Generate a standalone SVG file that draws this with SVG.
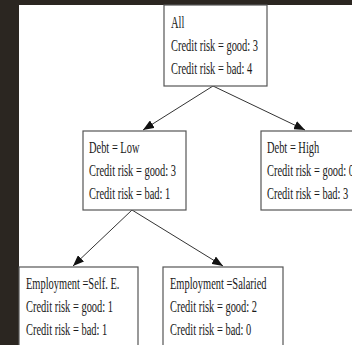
<svg xmlns="http://www.w3.org/2000/svg" width="352" height="345" viewBox="0 0 352 345">
  <defs>
    <style>
      .box { fill: #ffffff; stroke: #555555; stroke-width: 1.2; }
      .lbl { font-family: "Liberation Serif", "Times New Roman", serif; font-size: 17px; fill: #1a1a1a; }
      .edge { stroke: #333333; stroke-width: 1; fill: none; marker-end: url(#arrow); }
    </style>
    <marker id="arrow" viewBox="0 0 10 8" refX="10" refY="4" markerUnits="userSpaceOnUse" markerWidth="11" markerHeight="9" orient="auto">
      <path d="M0,0 L10,4 L0,8 Z" fill="#111111"/>
    </marker>
  </defs>

  <!-- page frame -->
  <rect x="0" y="0" width="352" height="345" fill="#2b2621"/>
  <rect x="19" y="5" width="333" height="340" fill="#ffffff"/>

  <!-- tree edges -->
  <g id="connectors">
    <line class="edge" x1="213" y1="86" x2="143" y2="130"/>
    <line class="edge" x1="213" y1="86" x2="305" y2="130"/>
    <line class="edge" x1="132" y1="210" x2="73" y2="266"/>
    <line class="edge" x1="132" y1="210" x2="223" y2="266"/>
  </g>

  <!-- root split -->
  <g id="node-all">
    <rect class="box" x="164" y="5" width="103" height="81"/>
    <g class="lbl" transform="translate(171,0) scale(0.614,1)">
      <text x="0" y="28">All</text>
      <text x="0" y="51">Credit risk = good: 3</text>
      <text x="0" y="74">Credit risk = bad: 4</text>
    </g>
  </g>

  <g id="node-debt-low">
    <rect class="box" x="83" y="131" width="103" height="79"/>
    <g class="lbl" transform="translate(89,0) scale(0.614,1)">
      <text x="0" y="153">Debt = Low</text>
      <text x="0" y="176">Credit risk = good: 3</text>
      <text x="0" y="199">Credit risk = bad: 1</text>
    </g>
  </g>

  <g id="node-debt-high">
    <rect class="box" x="261" y="131" width="110" height="79"/>
    <g class="lbl" transform="translate(267,0) scale(0.614,1)">
      <text x="0" y="153">Debt = High</text>
      <text x="0" y="176">Credit risk = good: 0</text>
      <text x="0" y="199">Credit risk = bad: 3</text>
    </g>
  </g>

  <g id="node-self-employed">
    <rect class="box" x="19" y="267" width="119" height="90"/>
    <g class="lbl" transform="translate(26,0) scale(0.614,1)">
      <text x="0" y="289">Employment =Self. E.</text>
      <text x="0" y="312">Credit risk = good: 1</text>
      <text x="0" y="335">Credit risk = bad: 1</text>
    </g>
  </g>

  <g id="node-salaried">
    <rect class="box" x="163" y="267" width="120" height="90"/>
    <g class="lbl" transform="translate(170,0) scale(0.614,1)">
      <text x="0" y="289">Employment =Salaried</text>
      <text x="0" y="312">Credit risk = good: 2</text>
      <text x="0" y="335">Credit risk = bad: 0</text>
    </g>
  </g>
</svg>
